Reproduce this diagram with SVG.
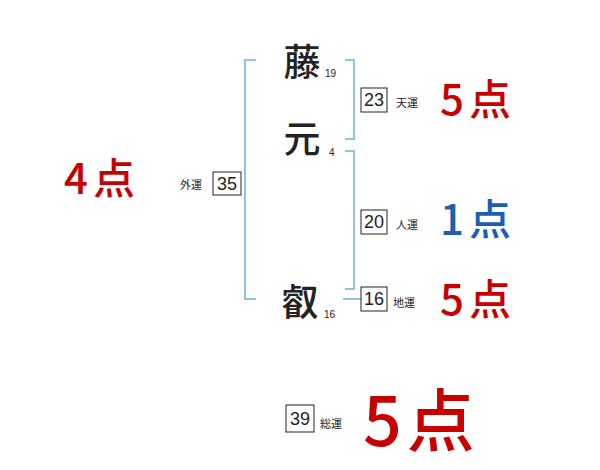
<svg xmlns="http://www.w3.org/2000/svg" width="600" height="470" viewBox="0 0 600 470">
<style>
.br{fill:none;stroke:#8cc4e4;stroke-width:2}
.box{fill:#fff;stroke:#222;stroke-width:1}
.num{font-family:"Liberation Sans","Noto Sans CJK JP",sans-serif;font-size:18px;fill:#222;text-anchor:middle}
.lbl{font-family:"Noto Sans CJK JP",sans-serif;font-size:11px;fill:#222}
.ch{font-family:"Noto Sans CJK JP",sans-serif;font-size:37px;font-weight:500;fill:#222;text-anchor:middle}
.sm{font-family:"Liberation Sans",sans-serif;font-size:10px;fill:#222}
.red{font-family:"Noto Sans CJK JP",sans-serif;fill:#c80000;font-weight:500;letter-spacing:5px}
.blue{font-family:"Noto Sans CJK JP",sans-serif;fill:#1a5fb4;font-weight:500;letter-spacing:5px}
</style>
<g id="connectors">
<path class="br" d="M256,60 H245 V299 H256"/>
<path class="br" d="M345,60 H354 V139 H345"/>
<path class="br" d="M345,151 H354 V289 H345"/>
<path class="br" d="M343,299 H361"/>
</g>
<g id="name1"><text class="ch" x="302" y="76">藤</text><text class="sm" x="325" y="77">19</text></g>
<g id="name2"><text class="ch" x="302" y="153">元</text><text class="sm" x="329" y="156">4</text></g>
<g id="name3"><text class="ch" x="300" y="316">叡</text><text class="sm" x="324" y="318">16</text></g>
<g id="gaiun"><text class="lbl" x="180" y="189">外運</text><rect class="box" x="213" y="172" width="28" height="23"/><text class="num" x="227" y="190">35</text></g>
<g id="tenun"><rect class="box" x="361" y="88" width="26" height="24"/><text class="num" x="374" y="106">23</text><text class="lbl" x="396" y="107">天運</text></g>
<g id="jinun"><rect class="box" x="361" y="210" width="26" height="24"/><text class="num" x="374" y="228">20</text><text class="lbl" x="396" y="229">人運</text></g>
<g id="chiun"><rect class="box" x="361" y="287" width="26" height="24"/><text class="num" x="374" y="305">16</text><text class="lbl" x="393" y="307">地運</text></g>
<g id="souun"><rect class="box" x="286" y="405" width="28" height="27"/><text class="num" x="300" y="425">39</text><text class="lbl" x="320" y="428">総運</text></g>
<g id="p-gai"><text class="red" x="64" y="194" font-size="42">4点</text></g>
<g id="p-ten"><text class="red" x="440" y="115" font-size="42">5点</text></g>
<g id="p-jin"><text class="blue" x="440" y="235" font-size="42">1点</text></g>
<g id="p-chi"><text class="red" x="440" y="315" font-size="42">5点</text></g>
<g id="p-sou"><text class="red" x="363" y="446" font-size="68">5点</text></g>
</svg>
